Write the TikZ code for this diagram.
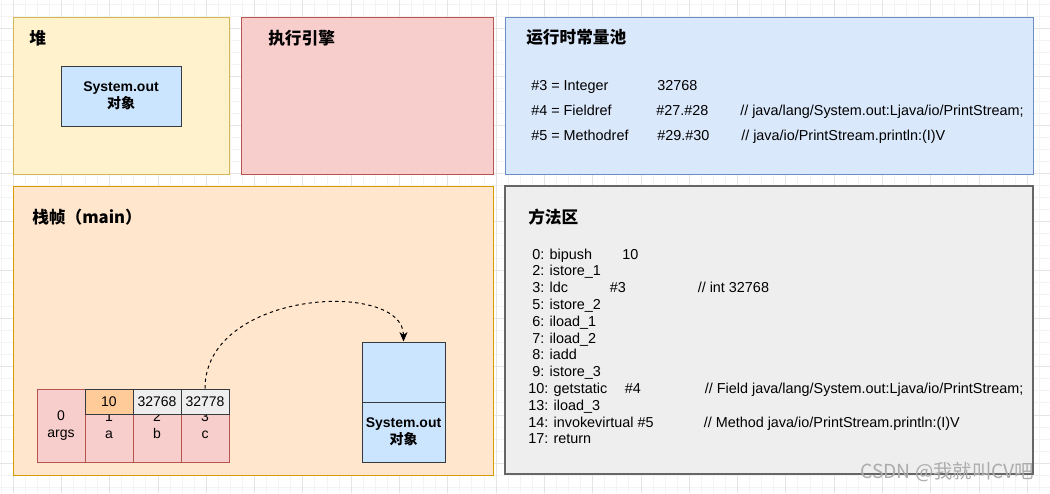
\documentclass[tikz,border=0pt]{standalone}
\usepackage{fontspec}
\setmainfont{Liberation Sans}
\newfontfamily\cjk{Noto Sans CJK SC}
\usetikzlibrary{arrows.meta}
\definecolor{heapfill}{HTML}{FFF2CC}\definecolor{heapdraw}{HTML}{D6B656}
\definecolor{engfill}{HTML}{F8CECC}\definecolor{engdraw}{HTML}{B85450}
\definecolor{poolfill}{HTML}{DAE8FC}\definecolor{pooldraw}{HTML}{6C8EBF}
\definecolor{stkfill}{HTML}{FFE6CC}\definecolor{stkdraw}{HTML}{D79B00}
\definecolor{methfill}{HTML}{EEEEEE}\definecolor{methdraw}{HTML}{666666}
\definecolor{objfill}{HTML}{CCE5FF}\definecolor{objdraw}{HTML}{36393D}
\definecolor{valorange}{HTML}{FFCC99}
\definecolor{gridmajor}{HTML}{E4E4E4}\definecolor{gridminor}{HTML}{F3F3F3}
\begin{document}
\begin{tikzpicture}[x=0.75pt,y=-0.75pt,
  panel/.style={line width=0.75pt},
  titletext/.style={anchor=west, inner sep=0pt, font=\cjk\bfseries\fontsize{12.5}{14}\selectfont},
  body/.style={anchor=west, inner sep=0pt, text height=7.7pt, text depth=0pt, font=\fontsize{10.8}{12.6}\selectfont},
  objbox/.style={draw=objdraw, fill=objfill, line width=0.75pt, inner sep=0pt, align=center, font=\bfseries\fontsize{10.5}{13}\selectfont},
  lvcell/.style={draw=engdraw, fill=engfill, line width=0.75pt, minimum width=36pt, minimum height=54.75pt, inner sep=0pt, align=center, font=\fontsize{10.5}{12.75}\selectfont},
  valcell/.style={draw=objdraw, line width=0.75pt, minimum width=36pt, minimum height=18.75pt, inner sep=0pt, font=\fontsize{10.5}{12.75}\selectfont},
  dasharrow/.style={line width=0.75pt, dash pattern=on 2.5pt off 2.5pt, -{Stealth[length=7pt,width=6pt,inset=2pt]}},
]
\useasboundingbox (0,0) rectangle (1050,493);
\fill[white] (0,0) rectangle (1050,493);
% grid
\foreach \i in {0,...,88} {\draw[gridminor, line width=0.6pt] ({13+12.075*(\i-1)},0) -- ++(0,493);}
\foreach \i in {0,...,42} {\draw[gridminor, line width=0.6pt] (0,{-19.8+12.075*\i}) -- ++(1050,0);}
\foreach \i in {0,...,22} {\draw[gridmajor, line width=0.6pt] ({13+48.3*\i},0) -- ++(0,493);}
\foreach \i in {0,...,11} {\draw[gridmajor, line width=0.6pt] (0,{-19.8+48.3*\i}) -- ++(1050,0);}
% panels
\draw[panel, draw=heapdraw, fill=heapfill] (13,17) rectangle (229,174);
\draw[panel, draw=engdraw, fill=engfill] (241,17) rectangle (493,174);
\draw[panel, draw=pooldraw, fill=poolfill] (505,17) rectangle (1033,174);
\draw[panel, draw=stkdraw, fill=stkfill] (13,186) rectangle (493,475);
\draw[line width=1.1pt, draw=methdraw, fill=methfill] (505,186) rectangle (1033,474);
% titles
\node[titletext] (t1) at (29,38) {堆};
\node[titletext] (t2) at (268,38) {执行引擎};
\node[titletext] (t3) at (526,37) {运行时常量池};
\node[titletext] (t4) at (32,217) {栈帧（main）};
\node[titletext] (t5) at (528,217) {方法区};
% heap object
\node[objbox, minimum width=90pt, minimum height=45pt] (heapobj) at (121,96) {System.out\\{\cjk\bfseries 对象}};
% constant pool
\node[body] (c1a) at (531,85) {\#3 = Integer};
\node[body] (c1b) at (657,85) {32768};
\node[body] (c2a) at (531,110) {\#4 = Fieldref};
\node[body] (c2b) at (656,110) {\#27.\#28};
\node[body] (c2c) at (740,110) {// java/lang/System.out:Ljava/io/PrintStream;};
\node[body] (c3a) at (531,135) {\#5 = Methodref};
\node[body] (c3b) at (657,135) {\#29.\#30};
\node[body] (c3c) at (741,135) {// java/io/PrintStream.println:(I)V};
% method area
\node[body] (m0) at (532,254) {0: bipush};
\node[body] (m0b) at (622,254) {10};
\node[body] (m1) at (532,270.8) {2: istore\_1};
\node[body] (m2) at (532,287.6) {3: ldc};
\node[body] (m2b) at (609.5,287.6) {\#3};
\node[body] (m2c) at (697.5,287.6) {// int 32768};
\node[body] (m3) at (532,304.4) {5: istore\_2};
\node[body] (m4) at (532,321.2) {6: iload\_1};
\node[body] (m5) at (532,338) {7: iload\_2};
\node[body] (m6) at (532,354.8) {8: iadd};
\node[body] (m7) at (532,371.6) {9: istore\_3};
\node[body] (m8) at (528,388.4) {10: getstatic};
\node[body] (m8b) at (624.6,388.4) {\#4};
\node[body] (m8c) at (704.6,388.4) {// Field java/lang/System.out:Ljava/io/PrintStream;};
\node[body] (m9) at (528,405.2) {13: iload\_3};
\node[body] (m10) at (528,422) {14: invokevirtual \#5};
\node[body] (m10c) at (703.5,422) {// Method java/io/PrintStream.println:(I)V};
\node[body] (m11) at (528,438.8) {17: return};
% local variable table
\node[lvcell] (l0) at (61,425.5) {0\\args};
\node[lvcell] (l1) at (109,425.5) {1\\a};
\node[lvcell] (l2) at (157,425.5) {2\\b};
\node[lvcell] (l3) at (205,425.5) {3\\c};
\node[valcell, fill=valorange] (v1) at (109,401.5) {10};
\node[valcell, fill=methfill] (v2) at (157,401.5) {32768};
\node[valcell, fill=methfill] (v3) at (205,401.5) {32778};
% operand stack
\node[objbox, minimum width=62.25pt, minimum height=45pt] (stktop) at (403.5,372) {};
\node[objbox, minimum width=62.25pt, minimum height=45pt, font=\bfseries\fontsize{10.5}{12.75}\selectfont] (stkbot) at (403.5,432) {System.out\\{\cjk\bfseries 对象}};
% arrow
\draw[dasharrow] (v3.north) .. controls +(0,-99) and +(0,-62) .. (stktop.north);
% watermark
\node[anchor=west, inner sep=0pt, text=gray!65, font=\cjk\fontsize{14.5}{16}\selectfont] (wm) at (860,472) {CSDN @我就叫CV吧};
\end{tikzpicture}
\end{document}
